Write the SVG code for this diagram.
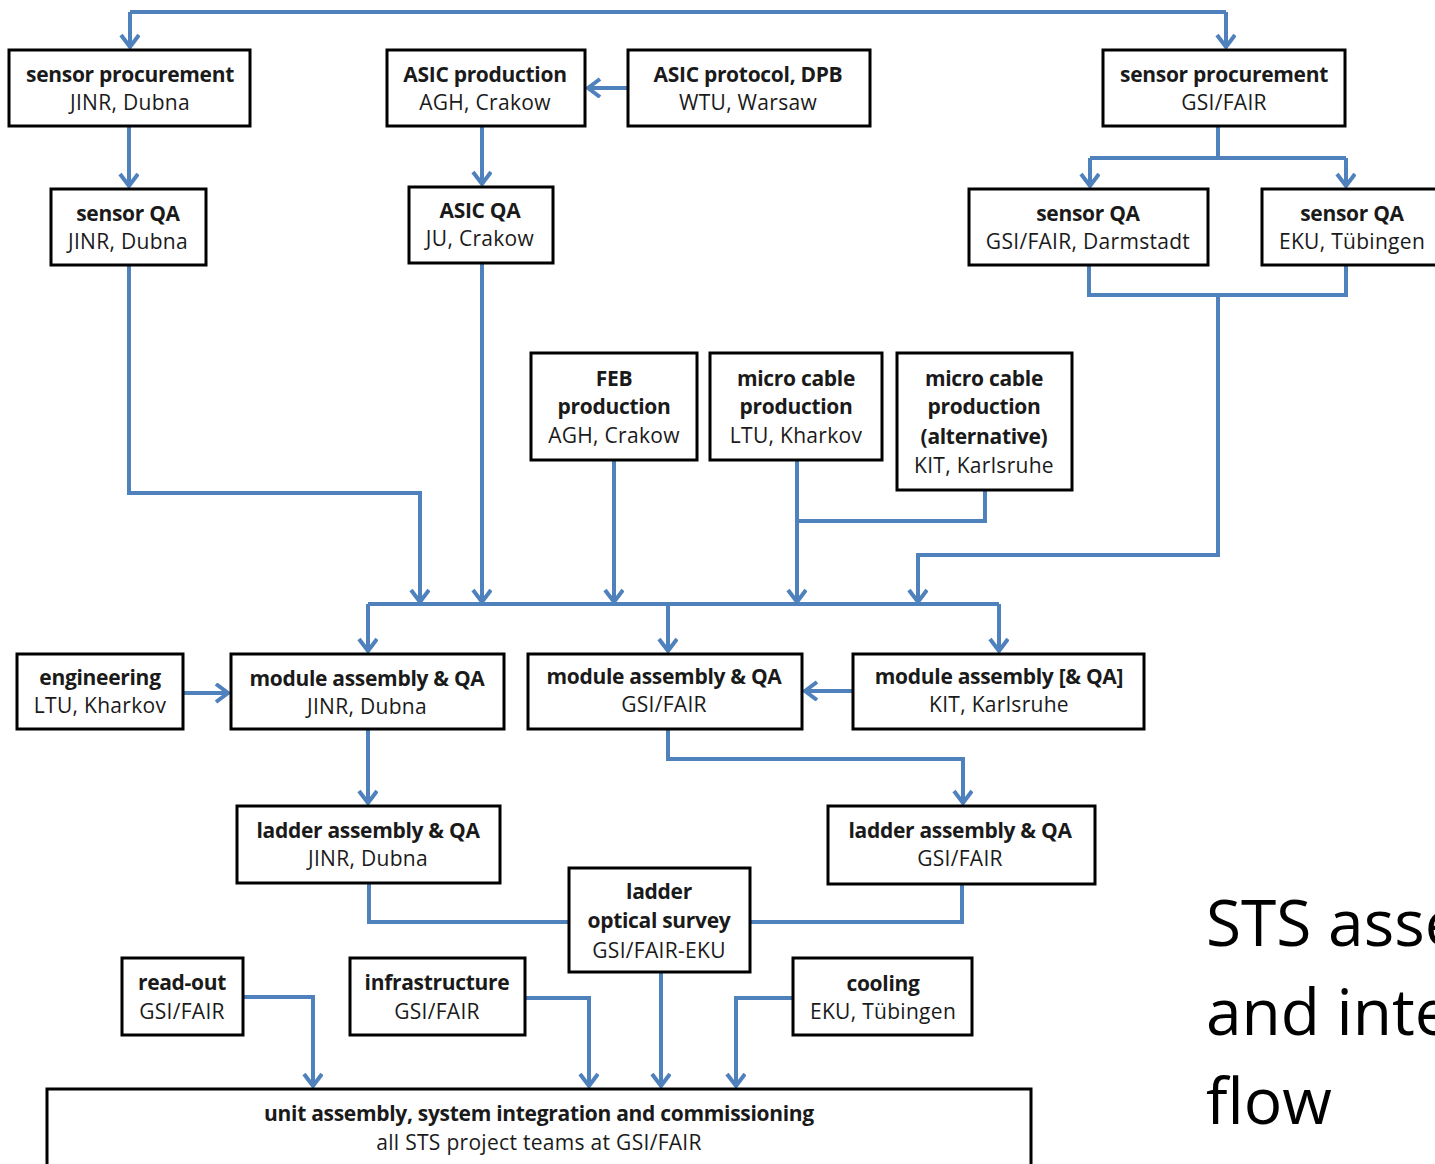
<svg xmlns="http://www.w3.org/2000/svg" width="1435" height="1164" viewBox="0 0 1435 1164">
<defs>
<marker id="arr" markerUnits="userSpaceOnUse" markerWidth="24" markerHeight="24" refX="14" refY="10" orient="auto">
<path d="M2,1 L14,10 L2,19" fill="none" stroke="#4F81BD" stroke-width="4"/>
</marker>
<style>
.box{fill:#fff;stroke:#000;stroke-width:3}
.c{fill:none;stroke:#4F81BD;stroke-width:4}
.a{marker-end:url(#arr)}
text{font-family:"Open Sans","Noto Sans","Liberation Sans",sans-serif;fill:#1a1a1a;text-anchor:middle;font-size:21px;letter-spacing:0.3px}
.b{font-weight:bold;letter-spacing:-0.3px}
.t{font-size:64px;text-anchor:start;fill:#000;letter-spacing:0}
</style>
</defs>
<rect width="1435" height="1164" fill="#fff"/>
<g id="connectors">
<path class="c" d="M130,12 H1226"/>
<path class="c a" d="M130,12 V47"/>
<path class="c a" d="M1226,12 V47"/>
<path class="c a" d="M129,126 V186"/>
<path class="c a" d="M482,126 V184"/>
<path class="c a" d="M628,88 H588"/>
<path class="c" d="M1218,126 V158 M1090,158 H1346"/>
<path class="c a" d="M1090,158 V186"/>
<path class="c a" d="M1346,158 V186"/>
<path class="c" d="M1089,265 V295 H1346 V265"/>
<path class="c a" d="M1218,295 V555 H918 V602"/>
<path class="c a" d="M129,265 V493 H420 V602"/>
<path class="c a" d="M482,263 V602"/>
<path class="c a" d="M614,460 V602"/>
<path class="c a" d="M797,460 V602"/>
<path class="c" d="M985,490 V521 H797"/>
<path class="c" d="M368,604 H999"/>
<path class="c a" d="M368,604 V651"/>
<path class="c a" d="M668,604 V651"/>
<path class="c a" d="M999,604 V651"/>
<path class="c a" d="M183,693 H228"/>
<path class="c a" d="M853,691 H805"/>
<path class="c a" d="M368,729 V803"/>
<path class="c a" d="M668,729 V759 H963 V803"/>
<path class="c" d="M369,883 V922 H569"/>
<path class="c" d="M962,884 V922 H750"/>
<path class="c a" d="M661,972 V1086"/>
<path class="c a" d="M243,997 H313 V1086"/>
<path class="c a" d="M525,998 H589 V1086"/>
<path class="c a" d="M793,998 H736 V1086"/>
</g>
<g id="n1"><rect class="box" x="9" y="50" width="241" height="76"/><text class="b" x="130" y="82">sensor procurement</text><text x="130" y="110">JINR, Dubna</text></g>
<g id="n2"><rect class="box" x="387" y="50" width="198" height="76"/><text class="b" x="485" y="82">ASIC production</text><text x="485" y="110">AGH, Crakow</text></g>
<g id="n3"><rect class="box" x="628" y="50" width="242" height="76"/><text class="b" x="748" y="82">ASIC protocol, DPB</text><text x="748" y="110">WTU, Warsaw</text></g>
<g id="n4"><rect class="box" x="1103" y="50" width="242" height="76"/><text class="b" x="1224" y="82">sensor procurement</text><text x="1224" y="110">GSI/FAIR</text></g>
<g id="n5"><rect class="box" x="51" y="189" width="155" height="76"/><text class="b" x="128" y="221">sensor QA</text><text x="128" y="249">JINR, Dubna</text></g>
<g id="n6"><rect class="box" x="409" y="187" width="144" height="76"/><text class="b" x="480" y="218">ASIC QA</text><text x="480" y="246">JU, Crakow</text></g>
<g id="n7"><rect class="box" x="969" y="189" width="239" height="76"/><text class="b" x="1088" y="221">sensor QA</text><text x="1088" y="249">GSI/FAIR, Darmstadt</text></g>
<g id="n8"><rect class="box" x="1262" y="189" width="180" height="76"/><text class="b" x="1352" y="221">sensor QA</text><text x="1352" y="249">EKU, Tübingen</text></g>
<g id="n9"><rect class="box" x="531" y="353" width="166" height="107"/><text class="b" x="614" y="386">FEB</text><text class="b" x="614" y="414">production</text><text x="614" y="443">AGH, Crakow</text></g>
<g id="n10"><rect class="box" x="710" y="353" width="172" height="107"/><text class="b" x="796" y="386">micro cable</text><text class="b" x="796" y="414">production</text><text x="796" y="443">LTU, Kharkov</text></g>
<g id="n11"><rect class="box" x="897" y="353" width="175" height="137"/><text class="b" x="984" y="386">micro cable</text><text class="b" x="984" y="414">production</text><text class="b" x="984" y="444">(alternative)</text><text x="984" y="473">KIT, Karlsruhe</text></g>
<g id="n12"><rect class="box" x="17" y="654" width="166" height="75"/><text class="b" x="100" y="685">engineering</text><text x="100" y="713">LTU, Kharkov</text></g>
<g id="n13"><rect class="box" x="231" y="654" width="273" height="75"/><text class="b" x="367" y="686">module assembly &amp; QA</text><text x="367" y="714">JINR, Dubna</text></g>
<g id="n14"><rect class="box" x="528" y="654" width="274" height="75"/><text class="b" x="664" y="684">module assembly &amp; QA</text><text x="664" y="712">GSI/FAIR</text></g>
<g id="n15"><rect class="box" x="853" y="654" width="291" height="75"/><text class="b" x="999" y="684">module assembly [&amp; QA]</text><text x="999" y="712">KIT, Karlsruhe</text></g>
<g id="n16"><rect class="box" x="237" y="806" width="263" height="77"/><text class="b" x="368" y="838">ladder assembly &amp; QA</text><text x="368" y="866">JINR, Dubna</text></g>
<g id="n17"><rect class="box" x="828" y="806" width="267" height="78"/><text class="b" x="960" y="838">ladder assembly &amp; QA</text><text x="960" y="866">GSI/FAIR</text></g>
<g id="n18"><rect class="box" x="569" y="868" width="181" height="104"/><text class="b" x="659" y="899">ladder</text><text class="b" x="659" y="928">optical survey</text><text x="659" y="958">GSI/FAIR-EKU</text></g>
<g id="n19"><rect class="box" x="122" y="958" width="121" height="77"/><text class="b" x="182" y="990">read-out</text><text x="182" y="1019">GSI/FAIR</text></g>
<g id="n20"><rect class="box" x="350" y="958" width="175" height="77"/><text class="b" x="437" y="990">infrastructure</text><text x="437" y="1019">GSI/FAIR</text></g>
<g id="n21"><rect class="box" x="793" y="958" width="179" height="77"/><text class="b" x="883" y="991">cooling</text><text x="883" y="1019">EKU, Tübingen</text></g>
<g id="n22"><rect class="box" x="47" y="1089" width="984" height="80"/><text class="b" x="539" y="1121">unit assembly, system integration and commissioning</text><text x="539" y="1150">all STS project teams at GSI/FAIR</text></g>
<g id="title"><text class="t" x="1206" y="946">STS assembly</text><text class="t" x="1206" y="1035">and integration</text><text class="t" x="1206" y="1124">flow</text></g>
</svg>
